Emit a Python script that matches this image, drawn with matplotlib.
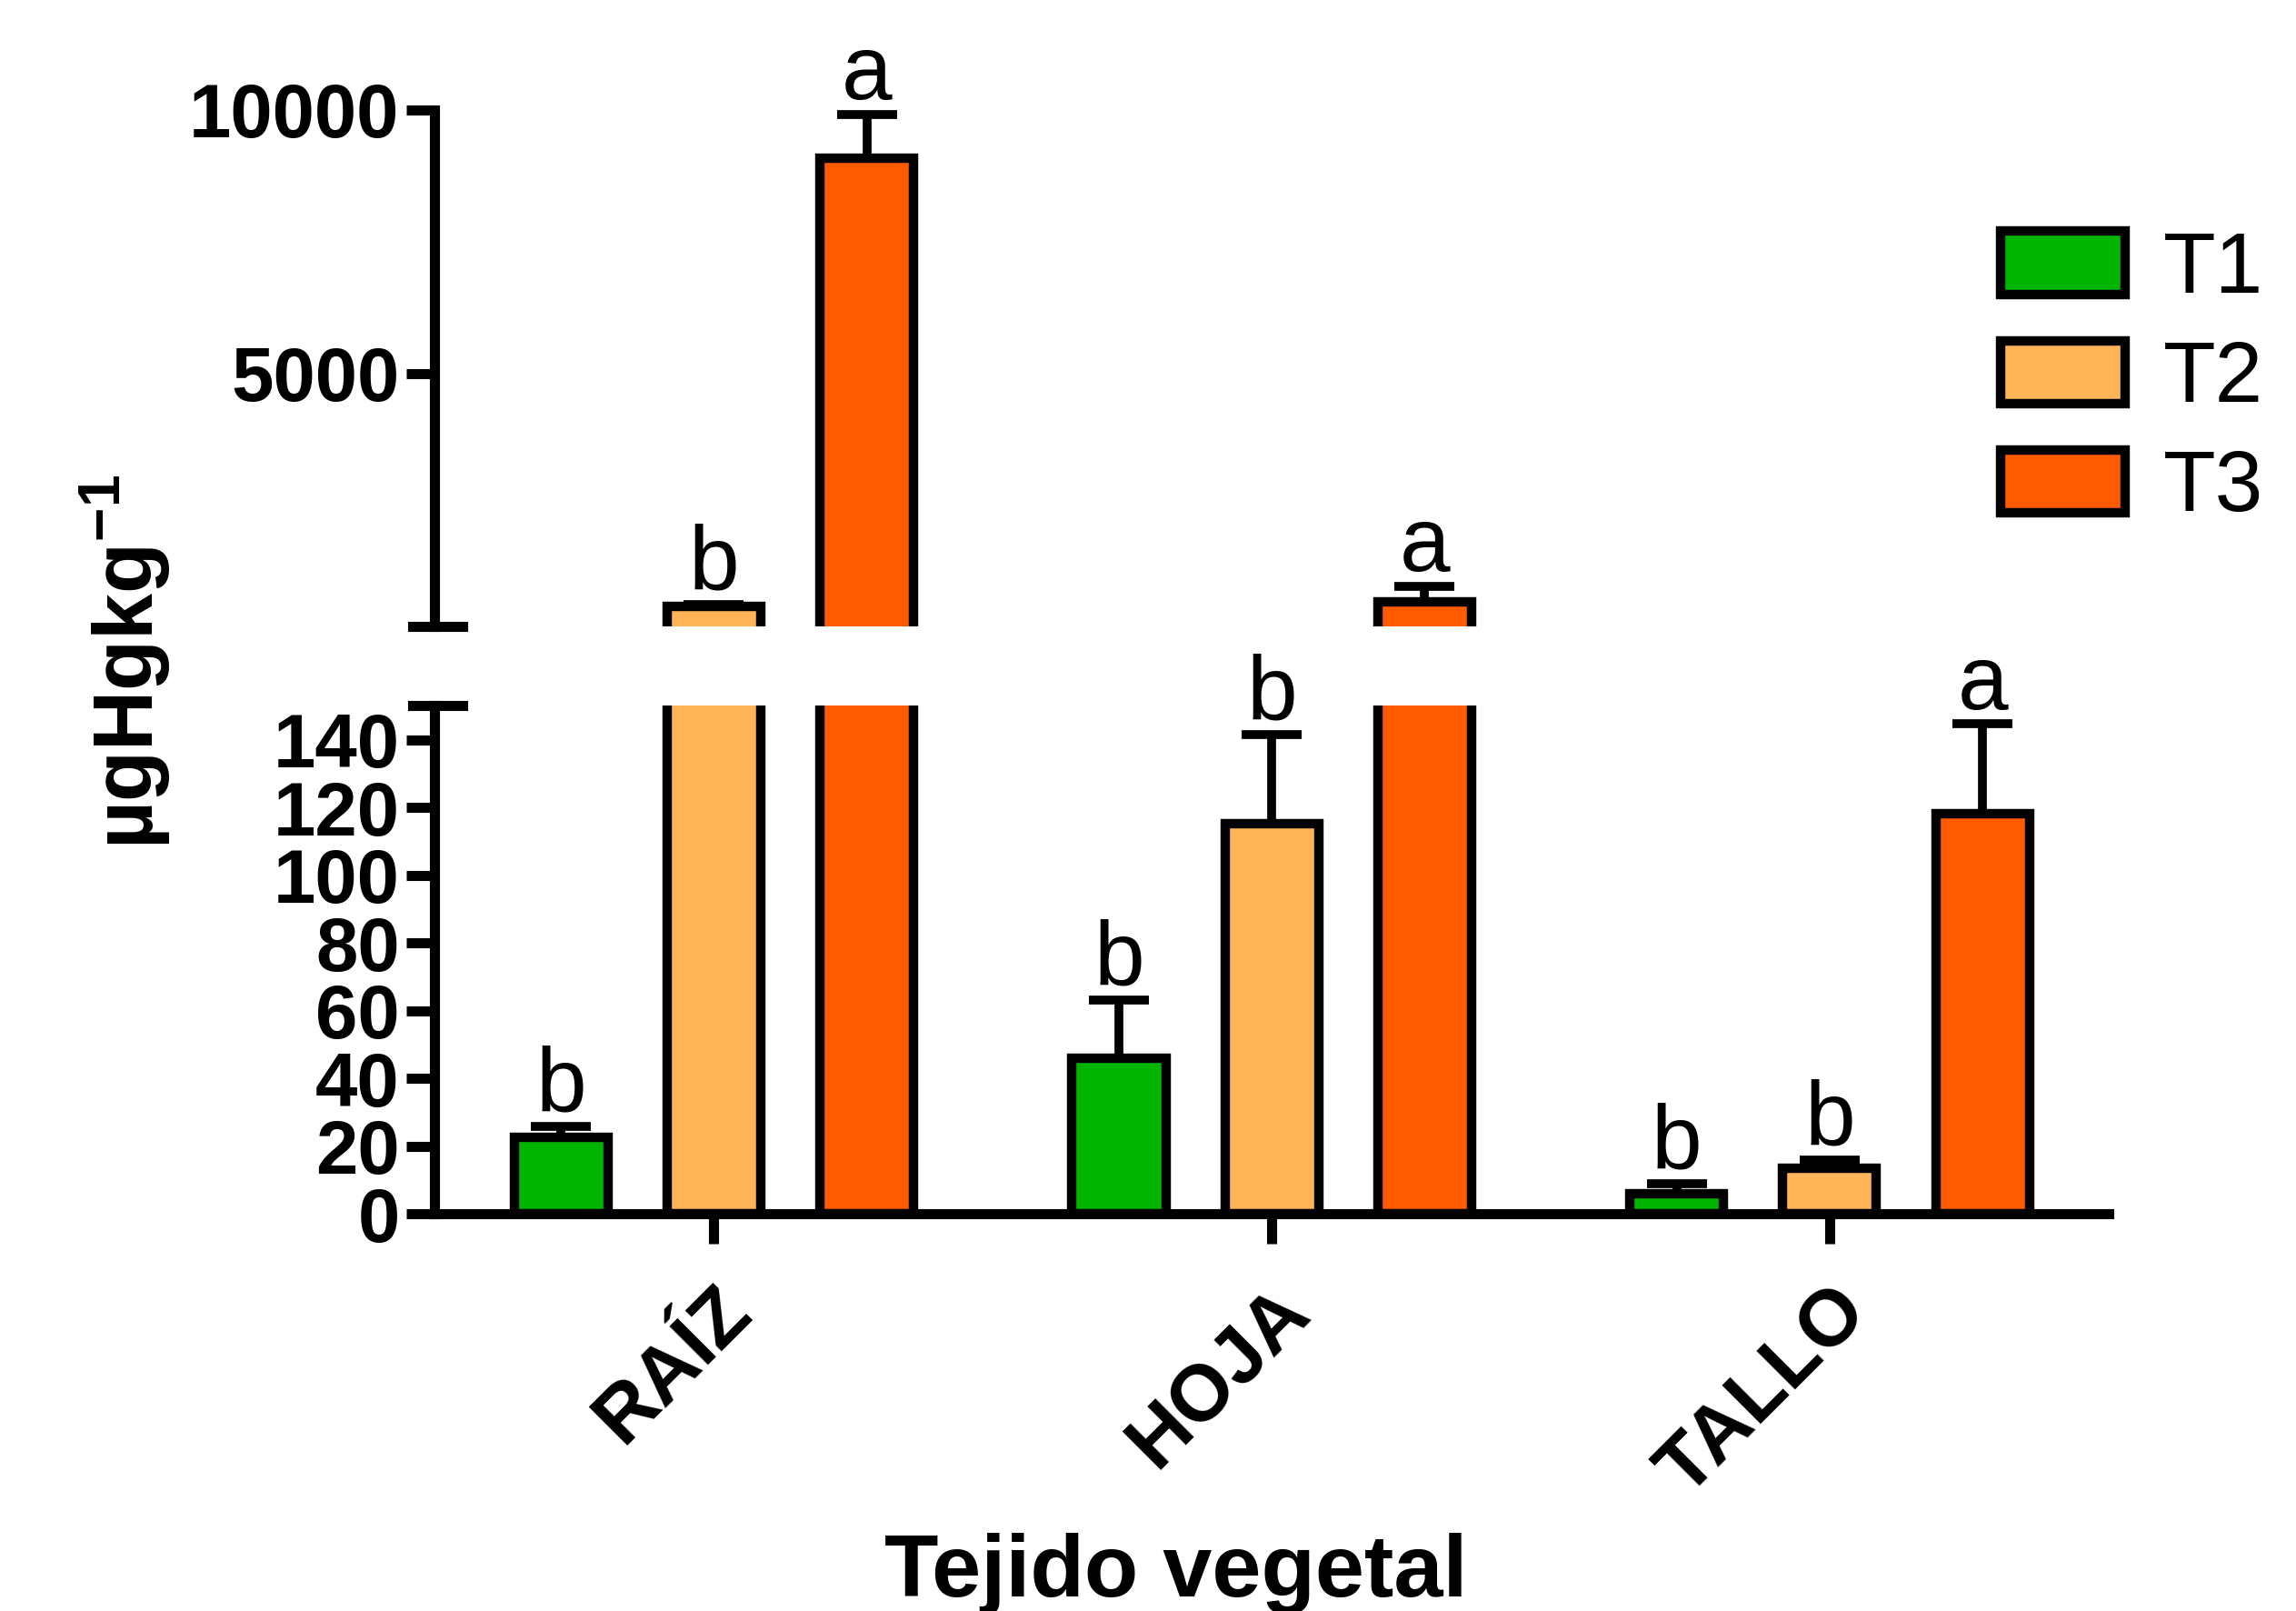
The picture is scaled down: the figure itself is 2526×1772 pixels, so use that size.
import matplotlib
matplotlib.use("Agg")
import matplotlib.pyplot as plt
import matplotlib.transforms as mtransforms
from matplotlib.lines import Line2D
from matplotlib.patches import Patch
import numpy as np

plt.rcParams['font.family'] = ['Liberation Sans', 'DejaVu Sans']
plt.rcParams['mathtext.fontset'] = 'custom'
plt.rcParams['mathtext.bf'] = 'Liberation Sans:bold'
plt.rcParams['mathtext.rm'] = 'Liberation Sans:bold'

# data
categories = ['RAÍZ', 'HOJA', 'TALLO']
series = ['T1', 'T2', 'T3']
t1_mean = [22.7, 46.1, 5.9]
t1_err = [3.2, 17.0, 3.1]
t2_mean = [570, 115.3, 13.6]
t2_err = [40, 26.3, 2.3]
t3_mean = [9080, 664, 118.2]
t3_err = [830, 300, 26.5]
t1_letters = ['b', 'b', 'b']
t2_letters = ['b', 'b', 'b']
t3_letters = ['a', 'a', 'a']
upper_ticks = [5000, 10000]
lower_ticks = [0, 20, 40, 60, 80, 100, 120, 140]

colors = ['#00B400', '#FFB458', '#FF5A00']
LOWER_TOP = 150
UPPER_BOTTOM = 190

W, H = 1568, 1100  # layout measured on reduced reference
fig = plt.figure(figsize=(25.26, 17.72), dpi=100)
left, right = 297 / W, 1440 / W
ax_low = fig.add_axes([left, 1 - 829 / H, right - left, (829 - 482) / H])
ax_up = fig.add_axes([left, 1 - 428 / H, right - left, (428 - 75) / H])

LW = 7.5
x = np.arange(len(categories))
offset = 0.274
width = 0.168
means = [t1_mean, t2_mean, t3_mean]
errs = [t1_err, t2_err, t3_err]
letters = [t1_letters, t2_letters, t3_letters]

for j in range(3):
    xs = x + (j - 1) * offset
    ax_low.bar(xs, means[j], width, color=colors[j],
               edgecolor='black', linewidth=LW, zorder=2)
    big = [i for i, m in enumerate(means[j]) if m > UPPER_BOTTOM]
    if big:
        ax_up.bar(xs[big], [means[j][i] for i in big], width, color=colors[j],
                  edgecolor='black', linewidth=LW, zorder=2)

for ax in (ax_low, ax_up):
    ax.set_xlim(-0.5, 2.5)
    for s in ('top', 'right'):
        ax.spines[s].set_visible(False)
    ax.spines['left'].set_linewidth(8)
    ax.spines['bottom'].set_linewidth(8)
    ax.tick_params(axis='y', length=22, width=8, pad=6)

ax_low.set_ylim(0, LOWER_TOP)
ax_up.set_ylim(UPPER_BOTTOM, 10000)
ax_up.spines['bottom'].set_visible(False)
ax_up.set_xticks([])
ax_up.set_yticks(upper_ticks)
ax_up.set_yticklabels([str(t) for t in upper_ticks], fontweight='bold', fontsize=60)
ax_low.set_yticks(lower_ticks)
ax_low.set_yticklabels([str(t) for t in lower_ticks], fontweight='bold', fontsize=60)
ax_low.set_xticks(x)
ax_low.set_xticklabels(categories, rotation=45, ha='right', va='center',
                       rotation_mode='anchor', fontweight='bold', fontsize=63)
ax_low.tick_params(axis='x', length=24, width=8, pad=44)
shift = mtransforms.ScaledTranslation(28 / 100, 0, fig.dpi_scale_trans)
for lab in ax_low.get_xticklabels():
    lab.set_transform(lab.get_transform() + shift)

# error bars and significance letters
for j in range(3):
    for i in range(len(categories)):
        m, e = means[j][i], errs[j][i]
        ax = ax_up if m > LOWER_TOP else ax_low
        xx = x[i] + (j - 1) * offset
        ax.errorbar(xx, m, yerr=[[0], [e]], fmt='none', ecolor='black',
                    elinewidth=7, capsize=24, capthick=7, zorder=3, clip_on=False)
        ax.annotate(letters[j][i], (xx, m + e), xytext=(0, 12),
                    textcoords='offset points', ha='center', va='baseline',
                    fontsize=72, annotation_clip=False)

# break caps at the ends of the two axis segments
for yy in (1 - 428 / H, 1 - 482 / H):
    fig.add_artist(Line2D([282 / W, 316 / W], [yy, yy], color='black',
                          linewidth=8, transform=fig.transFigure))

fig.text(86 / W, 1 - 452 / H, r'µgHgkg$^{\mathbf{-1}}$', rotation=90,
         ha='center', va='center', fontsize=66, fontweight='bold')
fig.text(803 / W, 1 - 1090 / H, 'Tejido vegetal', ha='center', va='baseline',
         fontsize=70, fontweight='bold')

handles = [Patch(facecolor=c, edgecolor='black', linewidth=LW) for c in colors]
fig.legend(handles, series, loc='upper left', bbox_to_anchor=(1366 / W, 1 - 157 / H),
           frameon=False, fontsize=68, handlelength=1.45, handleheight=0.75,
           handletextpad=0.45, labelspacing=0.33, borderpad=0, borderaxespad=0)

plt.savefig('out.png', dpi=100)
plt.close('all')
